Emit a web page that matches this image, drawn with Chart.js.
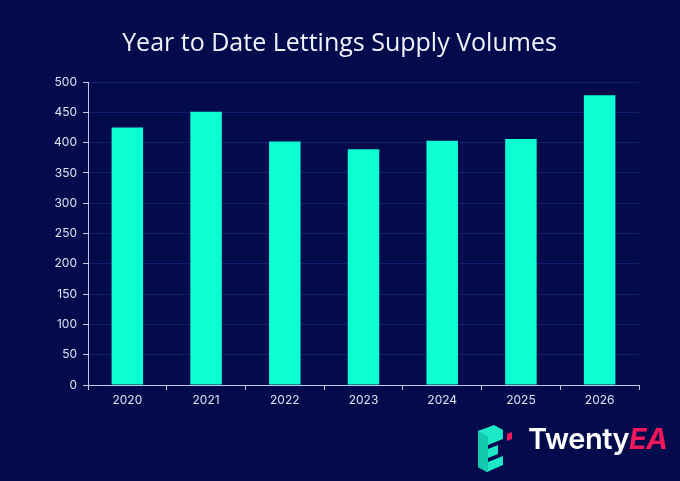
<!DOCTYPE html>
<html>
<head>
<meta charset="utf-8">
<script src="https://cdn.jsdelivr.net/npm/chart.js@4.4.0/dist/chart.umd.min.js"></script>
<style>
  html,body{margin:0;padding:0;background:#030b4d;}
  #wrap{position:relative;width:680px;height:481px;}
  #icon{position:absolute;left:470px;top:412px;}
  #logo{position:absolute;left:528px;top:421px;}
  #logo span.t{font-family:"Inter","DejaVu Sans",sans-serif;font-weight:600;font-size:29px;color:#ffffff;letter-spacing:-0.5px;}
  #logo span.e{color:#f0185c;font-style:italic;font-weight:700;}
</style>
</head>
<body>
<div id="wrap">
<canvas id="c" width="680" height="481"></canvas>
<svg id="icon" width="60" height="64" viewBox="0 0 60 64">
  <polygon points="8,19 24,13 33,18 33,27 18,33 18,37 28,33 28,42 18,46 18,50 33,44 33,53 17,60 8,55" fill="#1de9c8"/>
  <polygon points="8,19 18,24 18,60 17,60 8,55" fill="#14c9ad"/>
  <polygon points="37,22 42,20 42,27 37,29" fill="#f0185c"/>
</svg>
<div id="logo"><span class="t">Twenty<span class="e">EA</span></span></div>
</div>
<script>
const categories = ["2020","2021","2022","2023","2024","2025","2026"];
const supplyValues = [425, 451, 402, 389, 403, 406, 478];
const yTicks = [0,50,100,150,200,250,300,350,400,450,500];

new Chart(document.getElementById('c'), {
  type: 'bar',
  data: {
    labels: categories,
    datasets: [{
      data: supplyValues,
      backgroundColor: '#0affd3',
      borderWidth: 0,
      barPercentage: 0.4,
      categoryPercentage: 1.0
    }]
  },
  options: {
    responsive: false,
    animation: false,
    devicePixelRatio: 1,
    layout: { padding: { left: 40, right: 41, top: 0, bottom: 66 } },
    plugins: {
      legend: { display: false },
      tooltip: { enabled: false },
      title: {
        display: true,
        text: 'Year to Date Lettings Supply Volumes',
        color: '#f2f3fa',
        font: { family: '"Open Sans"', size: 25, weight: '400' },
        padding: { top: 29, bottom: 23 }
      }
    },
    scales: {
      x: {
        afterFit: (axis) => { axis.height = 30; },
        grid: { display: true, drawOnChartArea: false, drawTicks: true, tickLength: 5, color: '#c4c8dc', offset: true },
        border: { display: true, color: '#c4c8dc', width: 1 },
        ticks: { color: '#dfe2ef', font: { family: 'Inter', size: 12 }, padding: 3 }
      },
      y: {
        min: 0, max: 500,
        afterFit: (axis) => { axis.width = 48; },
        afterBuildTicks: (axis) => { axis.ticks = yTicks.map(v => ({ value: v })); },
        grid: { color: '#101f70', tickColor: '#c4c8dc', tickLength: 5, lineWidth: 1 },
        border: { display: true, color: '#c4c8dc', width: 1 },
        ticks: { color: '#dfe2ef', font: { family: 'Inter', size: 12 }, padding: 6 }
      }
    }
  },
  plugins: [{
    id: 'bg',
    beforeDraw(chart) {
      const ctx = chart.ctx;
      ctx.save();
      ctx.fillStyle = '#030b4d';
      ctx.fillRect(0, 0, chart.width, chart.height);
      ctx.restore();
    }
  }]
});
</script>
</body>
</html>
